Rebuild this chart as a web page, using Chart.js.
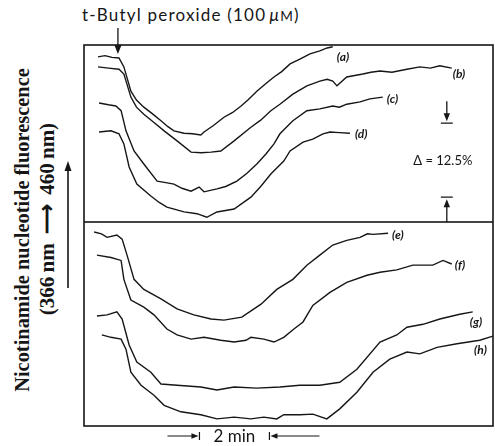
<!DOCTYPE html>
<html>
<head>
<meta charset="utf-8">
<script src="https://cdn.jsdelivr.net/npm/chart.js@4.4.1/dist/chart.umd.min.js"></script>
<style>
  html, body { margin: 0; padding: 0; background: #fff; }
  #page { position: relative; width: 495px; height: 446px; overflow: hidden; }
  #page canvas { position: absolute; left: 0; }
  .txt { position: absolute; color: #161616; white-space: nowrap; }
  .title { left: 82px; top: 4px; font: 17px Lato, "DejaVu Sans", sans-serif; letter-spacing: 1.2px; }
  .ylab { font-family: "Liberation Serif", serif; font-weight: bold; font-size: 20.4px;
          transform: translate(-50%, -50%) rotate(-90deg); }
</style>
</head>
<body>
<div id="page">
  <div class="txt title">t-Butyl peroxide (100&thinsp;<i>μ</i><span style="font-size:0.8em">M</span>)</div>
  <div class="txt ylab" style="left:22px; top:230px;">Nicotinamide nucleotide fluorescence</div>
  <div class="txt ylab" style="left:47px; top:219px; word-spacing:4px; font-size:21px;">(366&thinsp;nm ⟶ 460&thinsp;nm)</div>
  <svg style="position:absolute; left:60px; top:155px;" width="16" height="140">
    <line x1="8" y1="10" x2="8" y2="133" stroke="#161616" stroke-width="1.6"/>
    <path d="M8 6 L4.5 16 L11.5 16 Z" fill="#161616"/>
  </svg>
  <canvas id="topChart" width="495" height="222" style="top:0;"></canvas>
  <canvas id="bottomChart" width="495" height="224" style="top:222px;"></canvas>
</div>
<script>
// Time in min after start of trace, fluorescence change in % (scale bar = 12.5 %)
const aTime = [0.40, 0.60, 0.80, 1.00, 1.14, 1.34, 1.50, 1.71, 1.95, 2.20, 2.40, 2.57, 2.86, 3.10, 3.34, 3.43, 3.70, 4.00, 4.25, 4.49, 4.70, 4.94, 5.20, 5.43, 5.65, 5.89, 6.17, 6.46, 6.74, 6.95, 7.11];
const aFluor = [27.9, 28.1, 27.8, 27.7, 26.2, 22.1, 20.6, 19.4, 18.3, 17.1, 16.1, 15.4, 15.0, 14.9, 14.7, 15.2, 16.3, 17.7, 18.5, 19.6, 20.7, 22.1, 23.4, 24.5, 25.4, 26.7, 27.5, 28.4, 28.9, 29.4, 29.6];

const bTime = [0.40, 0.70, 1.00, 1.14, 1.34, 1.50, 1.71, 2.00, 2.29, 2.66, 3.06, 3.35, 3.63, 3.91, 4.29, 4.77, 5.05, 5.34, 5.60, 5.97, 6.37, 6.74, 6.95, 7.11, 7.23, 7.51, 7.97, 8.20, 8.46, 8.80, 9.23, 9.60, 9.90, 10.17, 10.51];
const bFluor = [26.2, 26.0, 25.8, 25.0, 21.1, 19.4, 18.2, 16.8, 15.4, 13.7, 11.8, 11.7, 11.8, 12.0, 13.7, 16.0, 17.2, 18.8, 19.9, 21.6, 23.0, 23.8, 24.1, 23.8, 23.0, 24.5, 25.0, 25.3, 25.5, 25.3, 25.8, 26.2, 26.0, 26.4, 26.0];

const cTime = [0.43, 0.70, 0.91, 1.06, 1.20, 1.43, 1.71, 2.09, 2.30, 2.57, 2.80, 3.06, 3.29, 3.43, 3.80, 4.05, 4.37, 4.65, 4.94, 5.20, 5.43, 5.60, 5.97, 6.37, 6.74, 7.11, 7.30, 7.51, 7.89, 8.17, 8.54];
const cFluor = [20.1, 19.8, 19.6, 18.8, 15.4, 12.0, 9.8, 6.9, 6.7, 6.4, 5.7, 5.2, 5.9, 5.1, 5.6, 6.0, 6.9, 8.2, 9.8, 11.5, 13.2, 14.9, 17.1, 18.8, 19.1, 19.6, 19.4, 19.9, 20.3, 20.8, 21.1];

const dTime = [0.43, 0.77, 1.00, 1.14, 1.29, 1.51, 1.91, 2.15, 2.37, 2.86, 3.23, 3.51, 3.80, 4.29, 4.77, 5.05, 5.34, 5.71, 5.89, 6.26, 6.54, 6.83, 7.03, 7.30, 7.60];
const dFluor = [15.2, 15.4, 14.9, 13.2, 9.3, 6.4, 4.4, 3.3, 2.5, 1.7, 1.4, 0.8, 1.7, 2.2, 4.2, 6.0, 8.1, 10.3, 12.0, 13.5, 14.0, 14.9, 15.2, 15.1, 15.0];

const eTime = [0.29, 0.50, 0.66, 0.94, 1.09, 1.23, 1.43, 1.71, 2.20, 2.66, 3.14, 3.63, 4.00, 4.51, 5.06, 5.51, 5.97, 6.37, 6.74, 7.11, 7.51, 7.89, 8.10, 8.26, 8.69];
const eFluor = [32.8, 32.5, 31.9, 32.3, 31.6, 28.9, 24.8, 23.1, 21.5, 19.8, 18.8, 18.1, 17.9, 18.4, 20.6, 23.1, 24.8, 27.2, 28.9, 30.6, 31.4, 31.9, 32.5, 32.4, 32.6];

const fTime = [0.37, 0.77, 1.06, 1.14, 1.34, 1.71, 2.00, 2.37, 2.66, 3.06, 3.43, 3.91, 4.29, 4.63, 4.77, 5.14, 5.43, 5.71, 6.00, 6.26, 6.54, 7.03, 7.51, 8.09, 8.46, 8.94, 9.40, 9.97, 10.26, 10.51];
const fFluor = [28.9, 28.5, 28.0, 24.8, 21.3, 20.1, 18.8, 16.4, 15.4, 14.7, 15.0, 14.5, 14.2, 14.5, 15.0, 14.7, 14.2, 15.0, 16.4, 17.6, 20.4, 22.6, 24.3, 25.5, 26.0, 26.4, 27.2, 27.2, 28.0, 27.4];

const gTime = [0.37, 0.66, 0.94, 1.09, 1.29, 1.51, 1.91, 2.20, 2.66, 3.34, 3.80, 4.29, 4.94, 5.60, 6.17, 6.74, 7.31, 7.80, 8.46, 8.94, 9.23, 9.69, 10.17, 10.74, 11.11];
const gFluor = [18.6, 18.8, 19.3, 18.1, 13.7, 10.8, 9.1, 7.1, 6.9, 6.6, 6.1, 6.6, 6.4, 6.6, 6.9, 6.9, 7.4, 9.6, 14.2, 15.4, 16.7, 17.2, 18.1, 18.9, 19.3];

const hTime = [0.51, 0.77, 1.06, 1.20, 1.34, 1.63, 2.00, 2.29, 2.77, 3.34, 3.80, 4.29, 4.77, 5.14, 5.51, 5.71, 6.17, 6.54, 6.94, 7.31, 7.80, 8.26, 8.74, 9.23, 9.60, 10.09, 10.66, 11.31, 11.69];
const hFluor = [15.4, 15.0, 14.7, 13.0, 9.1, 6.9, 5.2, 3.5, 2.4, 1.9, 1.2, 1.5, 1.2, 1.5, 1.2, 1.9, 1.9, 2.0, 1.2, 2.9, 5.7, 9.1, 11.3, 12.5, 12.2, 13.3, 13.9, 14.5, 15.2];

const timeMax = 11.69;
const topFluorMax = 29.9;
const bottomFluorMax = 34.5;
const peroxideTime = 0.97;      // addition of t-butyl peroxide
const scaleBarTime = 10.37;     // position of the 12.5 % bar
const scaleBarLow = 4.2;
const scaleBarHigh = 16.7;
const timeBarStart = 3.3;       // 2 min bar
const timeBarEnd = 5.3;

const ink = "#161616";

function curve(name, time, fluor, offset) {
  return {
    label: name,
    data: time.map((t, i) => ({ x: t, y: fluor[i] })),
    borderColor: ink,
    borderWidth: 1.4,
    pointRadius: 0,
    tension: 0,
    fill: false,
    labelOffset: offset,
  };
}

function arrowHead(ctx, x, y, dir, size) {
  // dir: "up", "down", "left", "right"
  ctx.beginPath();
  if (dir === "down") { ctx.moveTo(x, y); ctx.lineTo(x - size / 2.5, y - size); ctx.lineTo(x + size / 2.5, y - size); }
  if (dir === "up") { ctx.moveTo(x, y); ctx.lineTo(x - size / 2.5, y + size); ctx.lineTo(x + size / 2.5, y + size); }
  if (dir === "right") { ctx.moveTo(x, y); ctx.lineTo(x - size, y - size / 2.5); ctx.lineTo(x - size, y + size / 2.5); }
  if (dir === "left") { ctx.moveTo(x, y); ctx.lineTo(x + size, y - size / 2.5); ctx.lineTo(x + size, y + size / 2.5); }
  ctx.closePath();
  ctx.fill();
}

const framePlugin = {
  id: "frame",
  afterDraw(chart) {
    const { ctx, chartArea: a } = chart;
    ctx.save();
    ctx.strokeStyle = ink;
    ctx.lineWidth = 1.6;
    ctx.strokeRect(a.left, a.top, a.right - a.left, a.bottom - a.top);
    ctx.restore();
  },
};

const curveLabelPlugin = {
  id: "curveLabels",
  afterDatasetsDraw(chart) {
    const ctx = chart.ctx;
    ctx.save();
    ctx.fillStyle = ink;
    ctx.font = "italic bold 12px Lato, 'DejaVu Sans', sans-serif";
    ctx.textAlign = "left";
    ctx.textBaseline = "middle";
    chart.data.datasets.forEach((ds, i) => {
      const pts = chart.getDatasetMeta(i).data;
      const last = pts[pts.length - 1];
      ctx.fillText(ds.label, last.x + ds.labelOffset[0], last.y + ds.labelOffset[1]);
    });
    ctx.restore();
  },
};

const topNotesPlugin = {
  id: "topNotes",
  afterDraw(chart) {
    const { ctx, scales } = chart;
    const x = scales.x.getPixelForValue(peroxideTime);
    ctx.save();
    ctx.strokeStyle = ink;
    ctx.fillStyle = ink;
    ctx.lineWidth = 1.3;
    // peroxide addition arrow
    ctx.beginPath();
    ctx.moveTo(x, 28);
    ctx.lineTo(x, 46);
    ctx.stroke();
    arrowHead(ctx, x, 54, "down", 9);

    // 12.5 % scale bar
    const bx = scales.x.getPixelForValue(scaleBarTime);
    const yHigh = scales.y.getPixelForValue(scaleBarHigh);
    const yLow = scales.y.getPixelForValue(scaleBarLow);
    ctx.beginPath();
    ctx.moveTo(bx - 6, yHigh); ctx.lineTo(bx + 6, yHigh);
    ctx.moveTo(bx - 6, yLow); ctx.lineTo(bx + 6, yLow);
    ctx.moveTo(bx, yHigh - 22); ctx.lineTo(bx, yHigh - 8);
    ctx.moveTo(bx, yLow + 8); ctx.lineTo(bx, chart.chartArea.bottom);
    ctx.stroke();
    arrowHead(ctx, bx, yHigh - 2, "down", 8);
    arrowHead(ctx, bx, yLow + 2, "up", 8);
    ctx.font = "13px Lato, 'DejaVu Sans', sans-serif";
    ctx.textAlign = "center";
    ctx.textBaseline = "middle";
    ctx.fillText("Δ = 12.5%", bx - 4, (yHigh + yLow) / 2 + 1);
    ctx.restore();
  },
};

const timeBarPlugin = {
  id: "timeBar",
  afterDraw(chart) {
    const { ctx, scales, chartArea } = chart;
    const x1 = scales.x.getPixelForValue(timeBarStart);
    const x2 = scales.x.getPixelForValue(timeBarEnd);
    const y = chartArea.bottom + 10;
    ctx.save();
    ctx.strokeStyle = ink;
    ctx.fillStyle = ink;
    ctx.lineWidth = 1.2;
    ctx.beginPath();
    ctx.moveTo(x1 - 32, y); ctx.lineTo(x1 - 5, y);
    ctx.moveTo(x1, y - 4); ctx.lineTo(x1, y + 4);
    ctx.moveTo(x2, y - 4); ctx.lineTo(x2, y + 4);
    ctx.moveTo(x2 + 5, y); ctx.lineTo(x2 + 50, y);
    ctx.stroke();
    arrowHead(ctx, x1 - 1, y, "right", 7);
    arrowHead(ctx, x2 + 1, y, "left", 7);
    ctx.font = "17px Lato, 'DejaVu Sans', sans-serif";
    ctx.textAlign = "center";
    ctx.textBaseline = "middle";
    ctx.fillText("2 min", (x1 + x2) / 2, y + 1);
    ctx.restore();
  },
};

function panelOptions(fluorMax, padding) {
  return {
    responsive: false,
    animation: false,
    layout: { padding },
    plugins: { legend: { display: false }, tooltip: { enabled: false } },
    scales: {
      x: { type: "linear", min: 0, max: timeMax, display: false },
      y: { type: "linear", min: 0, max: fluorMax, display: false },
    },
  };
}

new Chart(document.getElementById("topChart"), {
  type: "line",
  data: {
    datasets: [
      curve("(a)", aTime, aFluor, [4, 10]),
      curve("(b)", bTime, bFluor, [1, 6]),
      curve("(c)", cTime, cFluor, [4, 2]),
      curve("(d)", dTime, dFluor, [5, 1]),
    ],
  },
  options: panelOptions(topFluorMax, { left: 84, right: 2, top: 45, bottom: 0 }),
  plugins: [framePlugin, curveLabelPlugin, topNotesPlugin],
});

new Chart(document.getElementById("bottomChart"), {
  type: "line",
  data: {
    datasets: [
      curve("(e)", eTime, eFluor, [4, 2]),
      curve("(f)", fTime, fFluor, [3, 1]),
      curve("(g)", gTime, gFluor, [-3, 10]),
      curve("(h)", hTime, hFluor, [-19, 14]),
    ],
  },
  options: panelOptions(bottomFluorMax, { left: 84, right: 2, top: 0, bottom: 20 }),
  plugins: [framePlugin, curveLabelPlugin, timeBarPlugin],
});
</script>
</body>
</html>
